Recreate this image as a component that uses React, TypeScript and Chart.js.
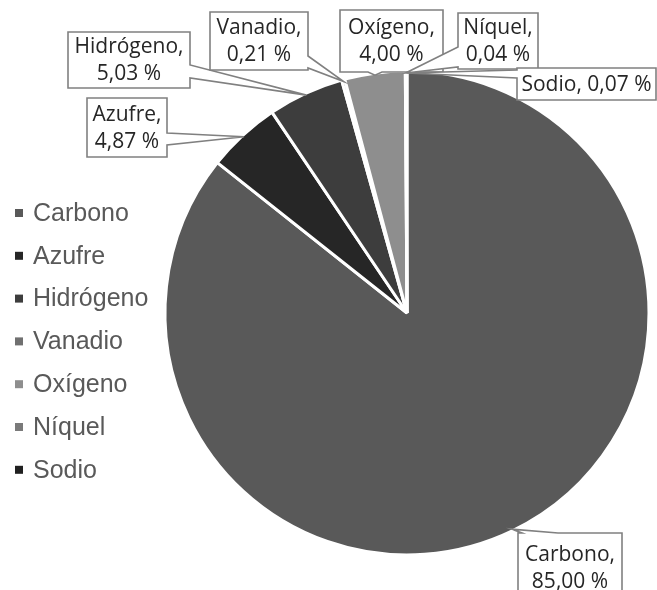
import React, { useEffect, useRef } from 'react';
import { Chart, registerables } from 'chart.js';

Chart.register(...registerables);

const categories = ['Carbono', 'Azufre', 'Hidrógeno', 'Vanadio', 'Oxígeno', 'Níquel', 'Sodio'];
const values = [85.0, 4.87, 5.03, 0.21, 4.0, 0.04, 0.07];
const valueTexts = ['85,00 %', '4,87 %', '5,03 %', '0,21 %', '4,00 %', '0,04 %', '0,07 %'];
const sliceColors = ['#595959', '#262626', '#3d3d3d', '#707070', '#8e8e8e', '#7a7a7a', '#202020'];

type Box = { x: number; y: number; w: number; h: number; side: 'top' | 'right' | 'bottom' | 'left'; a: number; b: number; one?: boolean };
const calloutBoxes: Box[] = [
  { x: 518, y: 533, w: 104, h: 70, side: 'top', a: 4, b: 40 },
  { x: 87, y: 98, w: 80, h: 59, side: 'right', a: 35, b: 47 },
  { x: 68, y: 32, w: 122, h: 56, side: 'right', a: 33, b: 46 },
  { x: 210, y: 12, w: 98, h: 58, side: 'right', a: 44, b: 56 },
  { x: 340, y: 10, w: 103, h: 62, side: 'bottom', a: 28, b: 42 },
  { x: 458, y: 13, w: 80, h: 56, side: 'left', a: 34, b: 54 },
  { x: 517, y: 68, w: 139, h: 32, side: 'left', a: 2, b: 10, one: true },
];

const legendPlugin = {
  id: 'sideLegend',
  afterDraw(chart: any) {
    const ctx = chart.ctx;
    ctx.save();
    ctx.font = '25px "Liberation Sans", Arial, sans-serif';
    ctx.textBaseline = 'middle';
    ctx.textAlign = 'left';
    categories.forEach((c, i) => {
      const y = 213 + i * 42.8;
      ctx.fillStyle = sliceColors[i];
      ctx.fillRect(15, y - 4, 8, 8);
      ctx.fillStyle = '#595959';
      ctx.fillText(c, 33, y + 1);
    });
    ctx.restore();
  },
};

const calloutPlugin = {
  id: 'callouts',
  afterDraw(chart: any) {
    const ctx = chart.ctx;
    const meta = chart.getDatasetMeta(0);
    ctx.save();
    meta.data.forEach((arc: any, i: number) => {
      const p = arc.getProps(['x', 'y', 'startAngle', 'endAngle', 'outerRadius'], true);
      const mid = (p.startAngle + p.endAngle) / 2;
      const tx = p.x + Math.cos(mid) * (p.outerRadius - 2);
      const ty = p.y + Math.sin(mid) * (p.outerRadius - 2);
      const b = calloutBoxes[i];
      const { x, y, w, h } = b;
      const pts: [number, number][] = [];
      pts.push([x, y]);
      if (b.side === 'top') pts.push([x + b.a, y], [tx, ty], [x + b.b, y]);
      pts.push([x + w, y]);
      if (b.side === 'right') pts.push([x + w, y + b.a], [tx, ty], [x + w, y + b.b]);
      pts.push([x + w, y + h]);
      if (b.side === 'bottom') pts.push([x + b.b, y + h], [tx, ty], [x + b.a, y + h]);
      pts.push([x, y + h]);
      if (b.side === 'left') pts.push([x, y + b.b], [tx, ty], [x, y + b.a]);
      ctx.beginPath();
      pts.forEach(([px, py], k) => (k === 0 ? ctx.moveTo(px, py) : ctx.lineTo(px, py)));
      ctx.closePath();
      ctx.fillStyle = '#ffffff';
      ctx.fill();
      ctx.lineWidth = 1.6;
      ctx.strokeStyle = '#808080';
      ctx.stroke();
      ctx.fillStyle = '#262626';
      ctx.font = '21px "Open Sans", sans-serif';
      ctx.textAlign = 'center';
      ctx.textBaseline = 'middle';
      const cx = x + w / 2;
      const cy = y + h / 2 + 1;
      if (b.one) {
        ctx.fillText(categories[i] + ', ' + valueTexts[i], cx, cy);
      } else {
        ctx.fillText(categories[i] + ',', cx, cy - 13.5);
        ctx.fillText(valueTexts[i], cx, cy + 13.5);
      }
    });
    ctx.restore();
  },
};

export default function App() {
  const ref = useRef<HTMLCanvasElement>(null);
  useEffect(() => {
    if (!ref.current) return;
    const chart = new Chart(ref.current, {
      type: 'pie',
      data: {
        labels: categories,
        datasets: [
          {
            data: values,
            backgroundColor: sliceColors,
            borderColor: '#ffffff',
            borderWidth: 3,
          },
        ],
      },
      options: {
        responsive: false,
        animation: false,
        devicePixelRatio: 1,
        radius: 242,
        layout: { padding: { left: 157, top: 36, right: 0, bottom: 0 } },
        plugins: {
          legend: { display: false },
          tooltip: { enabled: false },
        },
      },
      plugins: [legendPlugin, calloutPlugin],
    } as any);
    return () => chart.destroy();
  }, []);
  return (
    <div style={{ position: 'fixed', left: 0, top: 0, width: 657, height: 590, background: '#fff' }}>
      <canvas ref={ref} width={657} height={590} style={{ width: 657, height: 590, display: 'block' }} />
    </div>
  );
}
